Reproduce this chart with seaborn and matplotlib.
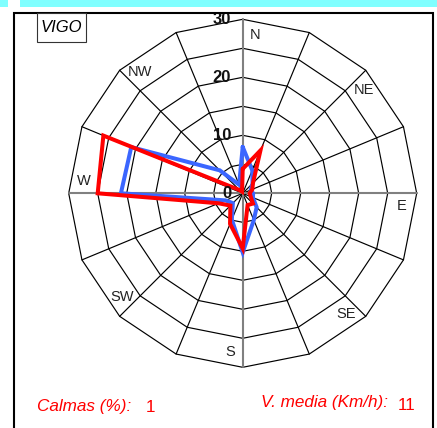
import numpy as np
import pandas as pd
import matplotlib
matplotlib.use("Agg")
import matplotlib.pyplot as plt
import seaborn as sns
from matplotlib.patches import Rectangle

# wind rose data (16 sectors, clockwise from N), % frequency
directions = ["N", "NNE", "NE", "ENE", "E", "ESE", "SE", "SSE",
              "S", "SSW", "SW", "WSW", "W", "WNW", "NW", "NNW"]
red_values = [4.2, 8.0, 2.5, 1.8, 1.2, 1.5, 2.5, 2.2,
              9.5, 5.7, 3.0, 4.5, 25.0, 26.0, 0.8, 0.3]
blue_values = [8.0, 4.3, 2.4, 1.5, 1.8, 1.9, 3.4, 5.0,
               10.2, 4.9, 2.4, 3.2, 21.0, 20.8, 5.6, 1.6]
ring_values = [5, 10, 15, 20, 25, 30]
ring_labels = ["0", "10", "20", "30"]
compass_labels = ["N", "NE", "E", "SE", "S", "SW", "W", "NW"]
station = "VIGO"
calmas = 1
v_media = 11

W, H = 437, 428
CX, CY = 242.7, 193.3     # centre of rose in pixels (from top-left)
PX = 5.8                  # pixels per unit


def to_xy(values, bearing_deg):
    b = np.deg2rad(bearing_deg)
    v = np.asarray(values, dtype=float)
    return v * np.sin(b), v * np.cos(b)


def main():
    sns.set_style("white")
    plt.rcParams["font.family"] = ["Liberation Sans", "DejaVu Sans"]

    fig = plt.figure(figsize=(W / 100, H / 100), dpi=100)
    ax = fig.add_axes([0, 0, 1, 1])
    ax.set_axis_off()

    bearings = np.arange(len(directions)) * 22.5

    # polygonal grid
    ring_b = np.append(bearings, 0.0)
    for r in ring_values:
        gx, gy = to_xy(np.full(len(ring_b), r), ring_b)
        ax.plot(gx, gy, color="black", lw=0.85, zorder=1)
    for b in bearings:
        sx, sy = to_xy([0, ring_values[-1]], [b, b])
        main_axis = b % 90 == 0
        ax.plot(sx, sy, color="#808080" if main_axis else "black",
                lw=1.5 if main_axis else 0.85, zorder=1.5 if main_axis else 1)

    # series
    rows = []
    for name, vals in [("blue", blue_values), ("red", red_values)]:
        closed = list(vals) + [vals[0]]
        xs, ys = to_xy(closed, np.append(bearings, 0.0))
        for i, (x, y) in enumerate(zip(xs, ys)):
            rows.append({"serie": name, "order": i, "x": x, "y": y})
    df = pd.DataFrame(rows)
    sns.lineplot(data=df, x="x", y="y", hue="serie", hue_order=["blue", "red"],
                 palette={"blue": "#3b66ff", "red": "#ff0000"}, sort=False,
                 estimator=None, legend=False, lw=2.9, ax=ax, zorder=3,
                 solid_joinstyle="miter")

    # radial labels
    for lab in ring_labels:
        ax.text(-2.0, float(lab), lab, ha="right", va="center",
                fontsize=12, fontweight="bold", color="#111111", zorder=4)

    # compass labels
    for i, lab in enumerate(compass_labels):
        lx, ly = to_xy([27.4], [i * 45 + 4.5])
        ax.text(lx[0], ly[0], lab, ha="center", va="center",
                fontsize=10.5, color="#222222", zorder=4)

    ax.set_xlim(-CX / PX, (W - CX) / PX)
    ax.set_ylim(-(H - CY) / PX, CY / PX)

    # decorations in figure pixel space
    def fr(x0, y0, w, h, **kw):
        rect = Rectangle((x0 / W, 1 - (y0 + h) / H), w / W, h / H,
                         transform=fig.transFigure, **kw)
        fig.add_artist(rect)

    fr(0, 0, 8, 7, facecolor="#80ffff", edgecolor="none")
    fr(20, 0, W - 20, 7, facecolor="#80ffff", edgecolor="none")
    fr(14.5, 13, 418.5, H, facecolor="none", edgecolor="black", lw=1.5)
    fr(37, 13, 49, 29, facecolor="white", edgecolor="#333333", lw=0.8)

    fig.text(61 / W, 1 - 27.5 / H, station, ha="center", va="center",
             fontsize=12, style="italic", color="black")
    fig.text(37 / W, 1 - 406 / H, "Calmas (%):", ha="left", va="center",
             fontsize=12.3, style="italic", color="red")
    fig.text(146 / W, 1 - 407 / H, str(calmas), ha="left", va="center",
             fontsize=12.3, color="red")
    fig.text(388 / W, 1 - 403 / H, "V. media (Km/h):", ha="right", va="center",
             fontsize=12.3, style="italic", color="red")
    fig.text(398 / W, 1 - 405 / H, str(v_media), ha="left", va="center",
             fontsize=12.3, color="red")

    fig.savefig("out.png", dpi=100)
    plt.close(fig)


if __name__ == "__main__":
    main()
